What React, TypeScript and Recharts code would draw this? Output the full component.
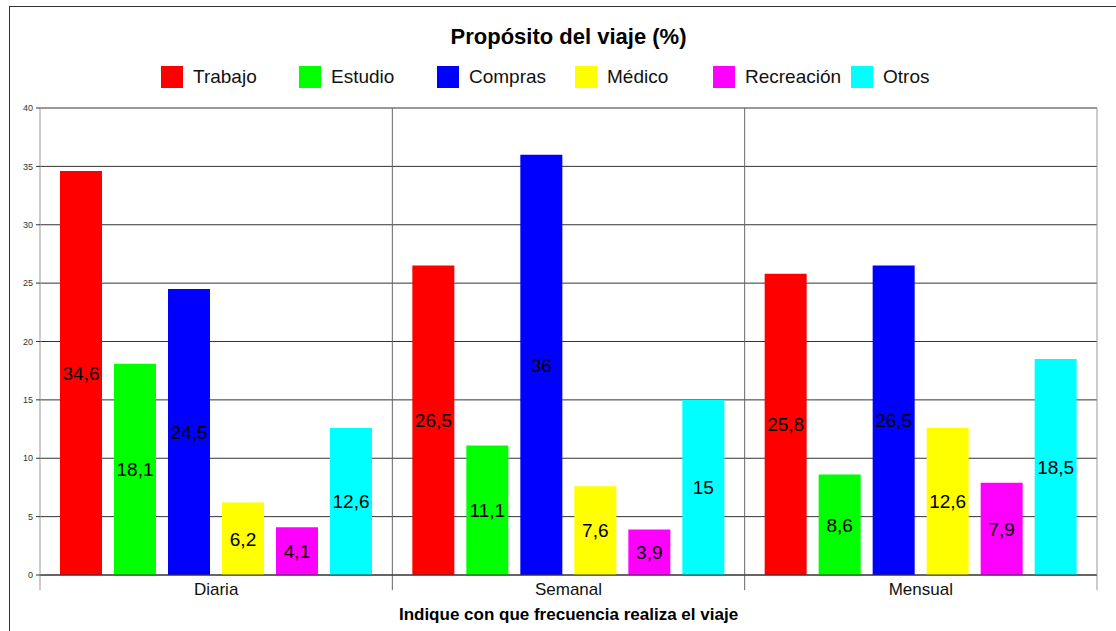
import { BarChart, Bar, XAxis, YAxis, CartesianGrid, Legend, LabelList, ReferenceLine } from "recharts";

const categories = ["Diaria", "Semanal", "Mensual"];
const trabajo = [34.6, 26.5, 25.8];
const estudio = [18.1, 11.1, 8.6];
const compras = [24.5, 36, 26.5];
const medico = [6.2, 7.6, 12.6];
const recreacion = [4.1, 3.9, 7.9];
const otros = [12.6, 15, 18.5];
const yTicks = [0, 5, 10, 15, 20, 25, 30, 35, 40];
const boundaries = [0, 1, 2, 3];

const SERIES = [
  { key: "Trabajo", values: trabajo, color: "#ff0000" },
  { key: "Estudio", values: estudio, color: "#00ff00" },
  { key: "Compras", values: compras, color: "#0000ff" },
  { key: "Médico", values: medico, color: "#ffff00" },
  { key: "Recreación", values: recreacion, color: "#ff00ff" },
  { key: "Otros", values: otros, color: "#00ffff" },
];

// pos = middle of each category slot, used by the hidden number axis for the separators
const data = categories.map((name, i) => {
  const row: Record<string, string | number> = { name, pos: i + 0.5 };
  SERIES.forEach((s) => (row[s.key] = s.values[i]));
  return row;
});

const FONT = "'Liberation Sans', Arial, sans-serif";

const fmt = (v: any) => String(v).replace(".", ",");

function LegendBox() {
  return (
    <div style={{ display: "flex", fontFamily: FONT }}>
      {SERIES.map((s) => (
        <div key={s.key} style={{ width: 138, display: "flex", alignItems: "center" }}>
          <span style={{ width: 22, height: 22, background: s.color, display: "inline-block", marginRight: 10 }} />
          <span style={{ fontSize: 19, color: "#111" }}>{s.key}</span>
        </div>
      ))}
    </div>
  );
}

export default function App() {
  return (
    <div style={{ position: "absolute", left: 0, top: 0, width: 1116, height: 631, overflow: "hidden", background: "#fff" }}>
      <div
        style={{
          position: "absolute",
          left: 9,
          top: 6,
          width: 1200,
          height: 700,
          border: "1.5px solid #333",
        }}
      />
      <div
        style={{
          position: "absolute",
          left: 40,
          width: 1057,
          top: 24,
          textAlign: "center",
          fontFamily: FONT,
          fontWeight: "bold",
          fontSize: 22,
          color: "#000",
        }}
      >
        Propósito del viaje (%)
      </div>
      <BarChart
        width={1116}
        height={631}
        data={data}
        margin={{ top: 108, right: 0, bottom: 0, left: 0 }}
        barSize={42}
        barGap={12}
        style={{ position: "absolute", left: 0, top: 0 }}
      >
        <CartesianGrid vertical={false} stroke="#333" yAxisId="left" />
        <XAxis
          dataKey="name"
          height={56}
          tickLine={false}
          axisLine={{ stroke: "#333" }}
          tick={{ fontSize: 17, fill: "#111", fontFamily: FONT }}
          label={{
            value: "Indique con que frecuencia realiza el viaje",
            position: "insideBottom",
            offset: 11,
            style: { fontSize: 17, fontWeight: "bold", fill: "#000", fontFamily: FONT },
          }}
        />
        <XAxis xAxisId="b" dataKey="pos" type="number" domain={[0, 3]} allowDataOverflow hide />
        <YAxis
          yAxisId="left"
          width={40}
          domain={[0, 40]}
          ticks={yTicks}
          tickSize={4}
          tickMargin={3}
          interval={0}
          axisLine={{ stroke: "#999" }}
          tickLine={{ stroke: "#333" }}
          tick={{ fontSize: 9, fill: "#333", fontFamily: FONT }}
        />
        <YAxis
          yAxisId="right"
          orientation="right"
          width={19}
          domain={[0, 40]}
          ticks={yTicks}
          tickSize={4}
          tickMargin={2}
          interval={0}
          axisLine={{ stroke: "#999" }}
          tickLine={{ stroke: "#333" }}
          tick={{ fontSize: 9, fill: "#333", fontFamily: FONT }}
        />
        {boundaries.map((b) => (
          <ReferenceLine
            key={b}
            xAxisId="b"
            yAxisId="left"
            segment={[
              { x: b, y: -1.3 },
              { x: b, y: b === 0 || b === 3 ? 0 : 40 },
            ]}
            stroke={b === 0 || b === 3 ? "#999" : "#666"}
            ifOverflow="visible"
          />
        ))}
        <Legend
          verticalAlign="middle"
          align="center"
          content={() => <LegendBox />}
          wrapperStyle={{ top: 66, left: 161, width: 840, height: 22 }}
        />
        {SERIES.map((s) => (
          <Bar key={s.key} dataKey={s.key} yAxisId="left" fill={s.color} isAnimationActive={false}>
            <LabelList
              dataKey={s.key}
              position="center"
              formatter={fmt}
              style={{ fontSize: 19, fill: "#000", fontFamily: FONT }}
            />
          </Bar>
        ))}
      </BarChart>
    </div>
  );
}
